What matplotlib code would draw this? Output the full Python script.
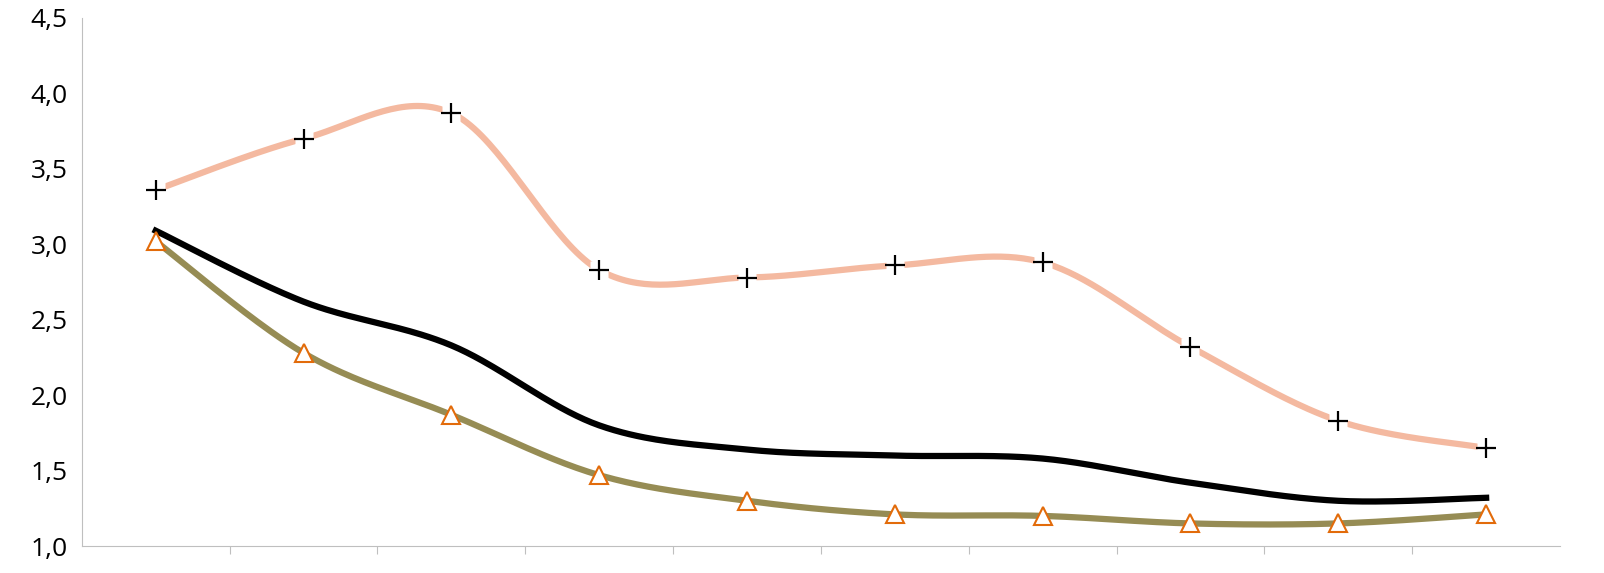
import numpy as np
import matplotlib
matplotlib.use("Agg")
import matplotlib.pyplot as plt
from matplotlib.ticker import FuncFormatter

categories = list(range(1, 11))
pink = [3.36, 3.70, 3.87, 2.83, 2.78, 2.86, 2.88, 2.32, 1.83, 1.65]
black = [3.09, 2.62, 2.33, 1.80, 1.64, 1.60, 1.58, 1.42, 1.30, 1.32]
olive = [3.02, 2.28, 1.87, 1.47, 1.30, 1.21, 1.20, 1.15, 1.15, 1.21]

def smooth(x, y, n=40, t=0.5):
    x = np.asarray(x, float); y = np.asarray(y, float)
    X, Y = [], []
    for i in range(len(x) - 1):
        p0 = i - 1 if i > 0 else i
        p3 = i + 2 if i + 2 < len(x) else i + 1
        m1x = (x[i+1] - x[p0]) * t; m1y = (y[i+1] - y[p0]) * t
        m2x = (x[p3] - x[i]) * t; m2y = (y[p3] - y[i]) * t
        s = np.linspace(0, 1, n)
        h00 = 2*s**3 - 3*s**2 + 1; h10 = s**3 - 2*s**2 + s
        h01 = -2*s**3 + 3*s**2; h11 = s**3 - s**2
        X.extend(h00*x[i] + h10*m1x + h01*x[i+1] + h11*m2x)
        Y.extend(h00*y[i] + h10*m1y + h01*y[i+1] + h11*m2y)
    return np.array(X), np.array(Y)

fig = plt.figure(figsize=(16.04, 5.73), dpi=100)
ax = fig.add_axes([0.051, 0.047, 0.9216, 0.9216])
x = np.arange(len(categories))

sx, sy = smooth(x, pink)
ax.plot(sx, sy, color="#F4B9A0", lw=4.5, solid_capstyle="butt", zorder=2)
ax.plot(x, pink, ls="none", marker="s", ms=13, mfc="white", mec="none", zorder=3)
ax.plot(x, pink, ls="none", marker="+", ms=14, mew=1.6, color="black", zorder=4)

sx, sy = smooth(x, black)
ax.plot(sx, sy, color="black", lw=4.5, zorder=2)

sx, sy = smooth(x, olive)
ax.plot(sx, sy, color="#968C54", lw=4.5, zorder=2)
ax.plot(x, olive, ls="none", marker="^", ms=13, mfc="white", mec="#E26B0A", mew=1.5, zorder=4)

ax.set_xlim(-0.5, len(categories) - 0.5)
ax.set_ylim(1.0, 4.5)
ax.set_yticks(np.arange(1.0, 4.51, 0.5))
ax.yaxis.set_major_formatter(FuncFormatter(lambda v, p: f"{v:.1f}".replace(".", ",")))
ax.set_xticks(np.arange(0.5, len(categories) - 0.5, 1.0))
ax.set_xticklabels([])
ax.tick_params(axis="x", length=6, direction="out", color="#BFBFBF")
ax.tick_params(axis="y", length=0, labelsize=19, pad=10)
for s in ["top", "right"]:
    ax.spines[s].set_visible(False)
for s in ["left", "bottom"]:
    ax.spines[s].set_color("#BFBFBF")
for l in ax.get_yticklabels():
    l.set_fontfamily("Open Sans")
fig.savefig("out.png", dpi=100)
